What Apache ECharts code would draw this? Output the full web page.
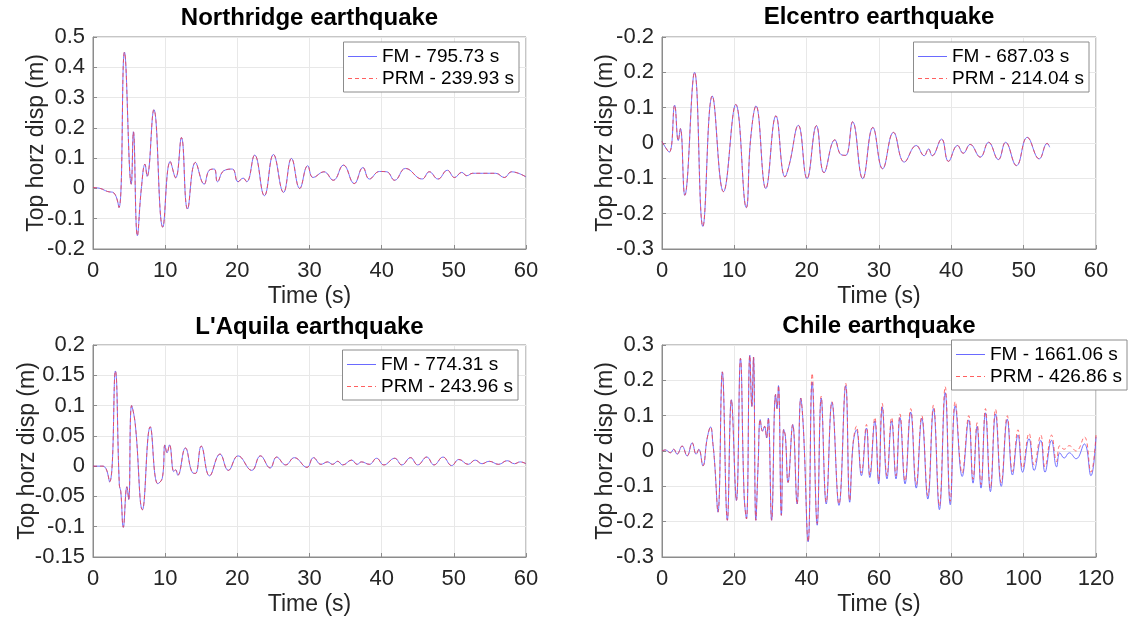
<!DOCTYPE html>
<html>
<head>
<meta charset="utf-8">
<script src="https://cdn.jsdelivr.net/npm/echarts@6/dist/echarts.min.js"></script>
<style>
html,body{margin:0;padding:0;background:#fff;}
#chart{width:1131px;height:621px;}
</style>
</head>
<body>
<div id="chart"></div>
<script>
// ---------- DATA ----------
const northridgeT = [0, 1.0, 2.0, 2.9, 3.6, 4.36, 5.3, 5.6, 6.15, 6.7,
  7.2, 7.5, 8.43, 9.67, 10.7, 11.45, 12.25, 13.1, 14.2, 15.4,
  16.1, 16.8, 17.25, 18.1, 19.3, 20.1, 20.8, 21.3, 22.4, 23.75,
  25.0, 26.4, 27.5, 28.65, 29.75, 30.5, 32.0, 33.3, 34.7, 36.2,
  37.4, 38.3, 39.7, 40.7, 41.8, 43.3, 45.6, 46.6, 47.8, 49.1,
  50.1, 51.1, 51.8, 52.6, 54.0, 55.8, 57.0, 58.0, 60.0];
const northridgeFM = [0.003, 0.0, -0.01, -0.015, -0.063, 0.45, 0.014, 0.187, -0.156, 0.0,
  0.08, 0.04, 0.26, -0.128, 0.089, 0.035, 0.168, -0.068, 0.086, 0.014,
  0.06, 0.064, 0.022, 0.058, 0.064, 0.022, 0.034, 0.022, 0.11, -0.024,
  0.112, -0.013, 0.099, 0.0, 0.075, 0.036, 0.055, 0.027, 0.077, 0.016,
  0.069, 0.031, 0.056, 0.055, 0.027, 0.066, 0.031, 0.055, 0.031, 0.06,
  0.036, 0.053, 0.042, 0.05, 0.05, 0.05, 0.036, 0.055, 0.038];
const northridgePRM = northridgeFM.slice();

const elcentroT = [0, 1.0, 1.75, 2.25, 2.55, 3.15, 4.5, 5.65, 6.95, 8.5,
  10.2, 11.65, 12.25, 13.0, 14.35, 15.75, 17.0, 17.6, 18.85, 20.05,
  21.35, 22.4, 23.9, 24.75, 25.4, 26.35, 27.75, 29.15, 30.5, 32.0,
  33.5, 35.15, 36.25, 36.85, 37.35, 38.65, 39.6, 40.85, 41.65, 42.6,
  44.0, 45.15, 46.5, 47.5, 49.0, 50.5, 52.15, 53.25, 53.6];
const elcentroFM = [0.004, -0.026, 0.107, 0.007, 0.041, -0.148, 0.2, -0.236, 0.133, -0.138,
  0.109, -0.183, 0.011, 0.105, -0.129, 0.077, -0.096, -0.061, 0.05, -0.101,
  0.049, -0.084, 0.009, -0.033, -0.035, 0.06, -0.101, 0.044, -0.073, 0.03,
  -0.054, -0.007, -0.036, -0.017, -0.036, 0.011, -0.052, -0.007, -0.029, -0.004,
  -0.04, 0.002, -0.047, 0.002, -0.064, 0.016, -0.045, -0.001, -0.012];
const elcentroPRM = elcentroFM.slice();

const laquilaT = [0, 1.4, 2.3, 3.1, 3.65, 3.85, 4.2, 4.7, 4.95, 5.35,
  5.85, 6.85, 7.93, 8.97, 9.6, 9.97, 10.26, 10.6, 11.2, 11.45,
  11.75, 12.8, 13.8, 14.2, 15.0, 16.15, 17.6, 18.75, 20.1, 22.0,
  23.2, 24.55, 25.45, 26.7, 27.9, 29.65, 30.55, 31.6, 32.5, 33.2,
  33.9, 34.6, 35.85, 36.6, 37.2, 38.3, 39.3, 40.3, 41.8, 42.8,
  44.0, 45.0, 46.25, 47.25, 48.5, 49.7, 50.7, 52.0, 52.95, 53.9,
  54.9, 56.2, 57.4, 58.4, 59.2, 60];
const laquilaFM = [0, 0, -0.026, 0.157, -0.031, -0.042, -0.101, -0.034, -0.055, 0.1,
  0.07, -0.072, 0.065, -0.029, -0.02, 0.035, 0.022, 0.035, -0.009, -0.006,
  -0.015, 0.03, -0.011, -0.012, 0.033, -0.016, 0.02, -0.007, 0.017, -0.007,
  0.017, -0.003, 0.015, 0.002, 0.014, -0.002, 0.014, 0.003, 0.007, 0.003,
  0.008, 0.002, 0.01, 0.003, 0.007, 0.003, 0.013, 0.002, 0.013, 0.002,
  0.014, 0.002, 0.015, 0.002, 0.015, 0.001, 0.011, 0.003, 0.01, 0.004,
  0.008, 0.003, 0.009, 0.004, 0.007, 0.004];
const laquilaPRM = laquilaFM.slice();

const chileT = [0, 0.93, 2.32, 3.24, 4.17, 5.56, 6.95, 8.34, 9.45, 10.19,
  11.31, 12.51, 13.44, 14.09, 14.55, 15.48, 16.68, 18.07, 19.18, 20.57,
  21.69, 22.71, 23.35, 24.28, 24.84, 25.30, 25.95, 26.60, 27.16, 27.80,
  28.36, 28.92, 29.38, 30.31, 31.4, 31.8, 32.2, 33.0, 33.64, 34.11,
  34.85, 36.14, 37.35, 38.37, 39.11, 40.41, 41.52, 42.91, 44.02, 45.41,
  46.99, 48.93, 50.79, 51.90, 52.83, 53.75, 55.14, 56.53, 57.46, 58.85,
  59.9, 60.89, 62.2, 63.49, 64.7, 65.80, 67.2, 68.77, 70.3, 71.83,
  73.5, 75.07, 76.7, 78.31, 79.7, 81.09, 83.0, 84.80, 86.0, 87.12,
  88.2, 89.43, 90.8, 92.22, 93.8, 95.46, 96.9, 98.43, 99.7, 101.48,
  102.9, 104.73, 105.9, 107.69, 109.1, 110.0, 111.2, 112.6, 114.5, 116.77,
  118.6, 120];
const chileFM = [0, 0.003, -0.005, 0.005, -0.009, 0.014, -0.014, 0.023, -0.009, 0.005,
  -0.042, 0.037, 0.068, 0.019, -0.033, -0.173, 0.224, -0.196, 0.145, -0.14,
  0.262, -0.126, -0.192, 0.271, 0.126, 0.266, -0.196, -0.033, 0.089, 0.056,
  0.07, 0.037, 0.093, -0.196, 0.16, 0.12, 0.185, -0.182, 0.061, 0.042,
  -0.089, 0.075, -0.15, 0.15, 0.061, -0.257, 0.195, -0.21, 0.15, -0.15,
  0.138, -0.154, 0.185, -0.145, 0.019, 0.06, -0.07, 0.065, -0.075, 0.085,
  -0.093, 0.125, -0.079, 0.085, -0.079, 0.095, -0.093, 0.11, -0.105, 0.093,
  -0.136, 0.12, -0.166, 0.165, -0.152, 0.128, -0.072, 0.088, -0.091, 0.07,
  -0.105, 0.108, -0.115, 0.105, -0.1, 0.09, -0.068, 0.045, -0.06, 0.035,
  -0.055, 0.03, -0.06, 0.03, -0.045, -0.005, -0.02, -0.005, -0.022, 0.02,
  -0.07, 0.04];
const chilePRM = [0, 0.003, -0.005, 0.005, -0.009, 0.014, -0.014, 0.023, -0.009, 0.005,
  -0.042, 0.037, 0.068, 0.019, -0.033, -0.173, 0.224, -0.196, 0.145, -0.14,
  0.262, -0.126, -0.192, 0.271, 0.126, 0.266, -0.196, -0.033, 0.089, 0.056,
  0.07, 0.037, 0.093, -0.196, 0.16, 0.12, 0.185, -0.182, 0.061, 0.042,
  -0.089, 0.075, -0.15, 0.15, 0.061, -0.257, 0.22, -0.205, 0.155, -0.145,
  0.14, -0.15, 0.192, -0.14, 0.022, 0.07, -0.062, 0.075, -0.068, 0.095,
  -0.085, 0.135, -0.07, 0.095, -0.07, 0.105, -0.085, 0.12, -0.095, 0.1,
  -0.127, 0.13, -0.155, 0.182, -0.142, 0.14, -0.062, 0.1, -0.08, 0.08,
  -0.095, 0.12, -0.105, 0.118, -0.09, 0.1, -0.058, 0.06, -0.048, 0.05,
  -0.04, 0.045, -0.045, 0.045, -0.03, 0.015, 0.005, 0.015, 0.0, 0.04,
  -0.06, 0.045];

const titles = ['Northridge earthquake', 'Elcentro earthquake', "L'Aquila earthquake", 'Chile earthquake'];
const fmNames = ['FM - 795.73 s', 'FM - 687.03 s', 'FM - 774.31 s', 'FM - 1661.06 s'];
const prmNames = ['PRM - 239.93 s', 'PRM - 214.04 s', 'PRM - 243.96 s', 'PRM - 426.86 s'];

const xLabels60 = ['0', '10', '20', '30', '40', '50', '60'];
const xLabels120 = ['0', '20', '40', '60', '80', '100', '120'];
const northridgeYLabels = ['-0.2', '-0.1', '0', '0.1', '0.2', '0.3', '0.4', '0.5'];
const elcentroYLabels = ['-0.3', '-0.2', '-0.1', '0', '0.1', '0.2', '-0.2'];
const laquilaYLabels = ['-0.15', '-0.1', '-0.05', '0', '0.05', '0.1', '0.15', '0.2'];
const chileYLabels = ['-0.3', '-0.2', '-0.1', '0', '0.1', '0.2', '0.3'];

// ---------- LAYOUT / STYLE ----------
const FONT = 'Liberation Sans, Arial, Helvetica, sans-serif';
const FM_COLOR = '#4a4aff';
const PRM_COLOR = '#ff4040';
const FM_LEG = '#6a6aff';
const PRM_LEG = '#ff6060';
const panels = [
  {grid: {left: 93, top: 37, width: 433, height: 212}, x: [0, 60, 10, xLabels60], y: [-0.2, 0.5, 0.1, northridgeYLabels],
   t: northridgeT, fm: northridgeFM, prm: northridgePRM, titlePos: [309.5, 6], legend: {right: 612, top: 42}, yGap: 45},
  {grid: {left: 662, top: 37, width: 434, height: 212}, x: [0, 60, 10, xLabels60], y: [-0.3, 0.3, 0.1, elcentroYLabels],
   t: elcentroT, fm: elcentroFM, prm: elcentroPRM, titlePos: [879, 5], legend: {right: 42, top: 42}, yGap: 45},
  {grid: {left: 93, top: 345, width: 433, height: 212}, x: [0, 60, 10, xLabels60], y: [-0.15, 0.2, 0.05, laquilaYLabels],
   t: laquilaT, fm: laquilaFM, prm: laquilaPRM, titlePos: [309.5, 315], legend: {right: 613, top: 350}, yGap: 54},
  {grid: {left: 662, top: 345, width: 434, height: 212}, x: [0, 120, 20, xLabels120], y: [-0.3, 0.3, 0.1, chileYLabels],
   t: chileT, fm: chileFM, prm: chilePRM, titlePos: [879, 314], legend: {right: 4, top: 340}, yGap: 45}
];

function labelFn(min, interval, labels) {
  return function (v) {
    const i = Math.round((v - min) / interval);
    return labels[i] !== undefined ? labels[i] : '';
  };
}
function pairs(t, v) { return t.map((x, i) => [x, v[i]]); }

const option = {
  backgroundColor: '#ffffff',
  animation: false,
  title: [], grid: [], xAxis: [], yAxis: [], series: [], legend: []
};

panels.forEach((p, k) => {
  option.title.push({
    text: titles[k], left: p.titlePos[0], top: p.titlePos[1], textAlign: 'center', padding: 0,
    textStyle: {fontFamily: FONT, fontSize: 24, fontWeight: 'bold', color: '#000'}
  });
  option.grid.push(Object.assign({show: true, borderColor: '#8c8c8c', borderWidth: 1, backgroundColor: '#fff',
    containLabel: false, outerBoundsMode: 'none'}, p.grid));
  option.xAxis.push({
    type: 'value', gridIndex: k, min: p.x[0], max: p.x[1], interval: p.x[2],
    name: 'Time (s)', nameLocation: 'middle', nameGap: 36, nameMoveOverlap: false,
    nameTextStyle: {fontFamily: FONT, fontSize: 23, color: '#262626'},
    axisLine: {show: true, onZero: false, lineStyle: {color: '#8c8c8c', width: 1}},
    axisTick: {show: true, inside: true, length: 4, lineStyle: {color: '#8c8c8c'}},
    axisLabel: {fontFamily: FONT, fontSize: 22, color: '#262626', margin: 11, formatter: labelFn(p.x[0], p.x[2], p.x[3])},
    splitLine: {show: true, lineStyle: {color: '#e8e8e8', width: 1}}
  });
  option.yAxis.push({
    type: 'value', gridIndex: k, min: p.y[0], max: p.y[1], interval: p.y[2],
    name: 'Top horz disp (m)', nameLocation: 'middle', nameGap: p.yGap, nameMoveOverlap: false,
    nameTextStyle: {fontFamily: FONT, fontSize: 23, color: '#262626'},
    axisLine: {show: true, onZero: false, lineStyle: {color: '#8c8c8c', width: 1}},
    axisTick: {show: true, inside: true, length: 4, lineStyle: {color: '#8c8c8c'}},
    axisLabel: {fontFamily: FONT, fontSize: 22, color: '#262626', margin: 8, formatter: labelFn(p.y[0], p.y[2], p.y[3])},
    splitLine: {show: true, lineStyle: {color: '#e8e8e8', width: 1}}
  });
  option.series.push({
    name: fmNames[k], type: 'line', xAxisIndex: k, yAxisIndex: k, data: pairs(p.t, p.fm),
    smooth: 0.45, symbol: 'none', showSymbol: false, color: FM_COLOR,
    lineStyle: {color: FM_COLOR, width: 0.9, opacity: 0.85}, itemStyle: {color: FM_COLOR}, z: 2
  });
  option.series.push({
    name: prmNames[k], type: 'line', xAxisIndex: k, yAxisIndex: k, data: pairs(p.t, p.prm),
    smooth: 0.45, symbol: 'none', showSymbol: false, color: PRM_COLOR,
    lineStyle: {color: PRM_COLOR, width: 0.9, type: [4, 3], opacity: 0.85}, itemStyle: {color: PRM_COLOR}, z: 3
  });
  option.legend.push(Object.assign({
    data: [
      {name: fmNames[k], itemStyle: {color: FM_LEG, opacity: 0}, lineStyle: {color: FM_LEG, width: 1, type: 'solid', opacity: 1}},
      {name: prmNames[k], itemStyle: {color: PRM_LEG, opacity: 0}, lineStyle: {color: PRM_LEG, width: 1, type: [4, 3], opacity: 1}}
    ],
    orient: 'vertical', itemWidth: 29, itemHeight: 14, itemGap: 3,
    padding: [5, 5, 4, 4], borderColor: '#8c8c8c', borderWidth: 1, backgroundColor: '#fff', borderRadius: 0,
    textStyle: {fontFamily: FONT, fontSize: 19, color: '#000'}, selectedMode: false
  }, p.legend));
});

const chart = echarts.init(document.getElementById('chart'), null, {renderer: 'canvas'});
chart.setOption(option);
</script>
</body>
</html>
